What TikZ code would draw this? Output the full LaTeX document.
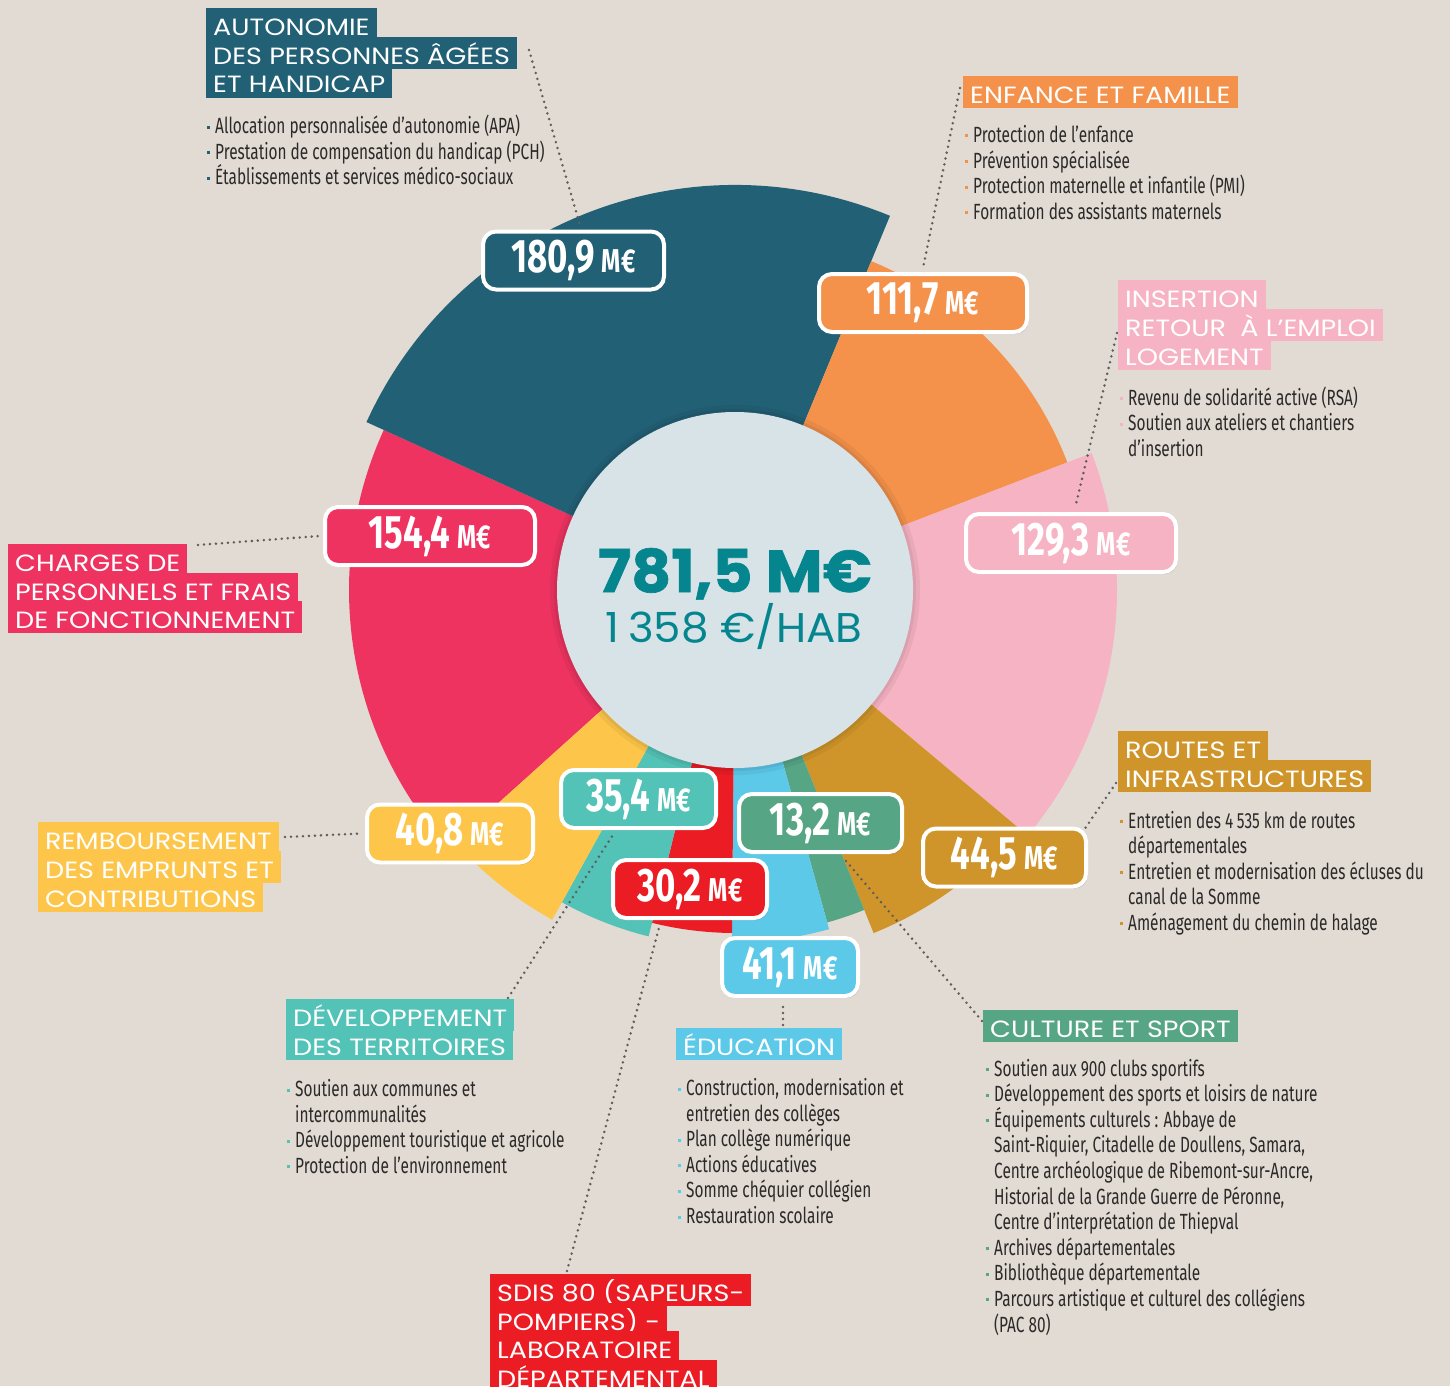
\documentclass[tikz,border=0pt]{standalone}
\usepackage{fontspec}
\setmainfont{Fira Sans}
\newfontfamily\hfont{Poppins}[FakeStretch=1.15]
\newfontfamily\bigfont{Poppins}[FakeStretch=1.05, BoldFeatures={FakeBold=1.2}]
\newfontfamily\bodyfont{Fira Sans}[FakeStretch=0.70]
\newfontfamily\valfont{Fira Sans}[FakeStretch=0.74]
\usetikzlibrary{shadows}
\definecolor{bg}{HTML}{E2DBD3}
\definecolor{cTeal}{HTML}{226075}
\definecolor{cOrange}{HTML}{F4924C}
\definecolor{cPink}{HTML}{F6B3C3}
\definecolor{cGold}{HTML}{D0952A}
\definecolor{cGreen}{HTML}{56A585}
\definecolor{cBlue}{HTML}{5CC9E9}
\definecolor{cRed}{HTML}{EC1C24}
\definecolor{cTealB}{HTML}{53C2B7}
\definecolor{cYellow}{HTML}{FDC64A}
\definecolor{cCrimson}{HTML}{EE3361}
\definecolor{cCenter}{HTML}{D8E3E8}
\definecolor{cNum}{HTML}{05868F}
\definecolor{cDot}{HTML}{5E5E5E}
\definecolor{cText}{HTML}{2B2A29}
\newcommand\bul[1]{\llap{\textcolor{#1}{\rule[5pt]{3pt}{3pt}}\hspace{5.5pt}}}
\newcommand\blist[5]{\foreach [count=\i] \k/\t in {#5}{\node[lst] (#1\i) at (#2,{#3+25.6*(\i-1)}) {\if\k b\bul{#4}\fi\t};}}
\newcommand\val[1]{\fontsize{47}{47}\selectfont #1\hspace{7pt}\fontsize{33}{33}\selectfont M€}
\begin{document}
\begin{tikzpicture}[x=1pt,y=-1pt,
  vbox/.style={draw=white, line width=4pt, rounded corners=13pt, text=white,
    inner sep=0pt, minimum height=58pt, font=\valfont\bfseries,
    drop shadow={shadow xshift=1.5pt, shadow yshift=-2pt, opacity=0.18, fill=black}},
  hdr/.style={anchor=base west, fill=#1, text=white, inner xsep=7pt, inner ysep=0pt,
    text height=27pt, text depth=5pt, font=\hfont\fontsize{23.5}{27}\selectfont},
  lst/.style={anchor=base west, inner sep=0pt, text=cText, font=\bodyfont\fontsize{22}{25.6}\selectfont},
  dots/.style={draw=cDot, line width=2.8pt, line cap=round, dash pattern=on 0pt off 6pt}]
\useasboundingbox (0,0) rectangle (1450,1386);
\fill[bg] (0,0) rectangle (1450,1386);
\coordinate (C) at (735,590);
% pie segments
\begin{scope}[shift={(735,590)},y=1pt]
\foreach \a/\b/\r/\c in {155.5/222/386/cCrimson, 67.5/155.5/405/cTeal, 21/67.5/356/cOrange,
   -40/21/382/cPink, -68/-40/370/cGold, -74.5/-68/345/cGreen, -90.5/-74.5/352/cBlue,
   -104/-90.5/343/cRed, -119/-104/357/cTealB, -138/-119/377/cYellow}
  \fill[\c] (0,0) -- (\a:\r) arc[start angle=\a, end angle=\b, radius=\r] -- cycle;
\end{scope}
\fill[black, opacity=0.05] (C) circle[radius=185pt];
\fill[black, opacity=0.06] (C) circle[radius=181pt];
\fill[cCenter] (C) circle[radius=178pt];
\node[anchor=base, text=cNum, inner sep=0pt, font=\bigfont\bfseries\fontsize{59}{59}\selectfont] (tot) at (735,592) {781,5 M€};
\node[anchor=base, text=cNum, inner sep=0pt, font=\bigfont\fontsize{41.5}{41.5}\selectfont] (hab) at (734,642) {1\hspace{9pt}358 €/HAB};
% dotted connectors
\coordinate (d1) at (529,50);
\coordinate (d2) at (960,88);
\coordinate (d3) at (1117,333);
\coordinate (d4) at (198,545);
\coordinate (d5) at (1116,783);
\coordinate (d6) at (285,837);
\coordinate (d7) at (508,998);
\coordinate (d8) at (567,1271);
\coordinate (d9) at (783,1025);
\coordinate (d10) at (982,1021);
% value boxes
\node[vbox, fill=cTeal, minimum width=181pt] (v1) at (573.5,260.5) {\val{180,9}};
\node[vbox, fill=cOrange, minimum width=208pt] (v2) at (923,303) {\val{111,7}};
\node[vbox, fill=cPink, minimum width=210pt] (v3) at (1071,543) {\val{129,3}};
\node[vbox, fill=cCrimson, minimum width=210pt] (v4) at (430,536) {\val{154,4}};
\node[vbox, fill=cYellow, minimum width=166pt] (v5) at (450,833.5) {\val{40,8}};
\node[vbox, fill=cTealB, minimum width=155pt] (v6) at (638.5,799) {\val{35,4}};
\node[vbox, fill=cRed, minimum width=154pt] (v7) at (690,889) {\val{30,2}};
\node[vbox, fill=cGreen, minimum width=163pt] (v8) at (820.5,823) {\val{13,2}};
\node[vbox, fill=cGold, minimum width=163pt] (v9) at (1004.5,857.5) {\val{44,5}};
\node[vbox, fill=cBlue, minimum width=136pt] (v10) at (790,967) {\val{41,1}};
\draw[dots] (d1) -- ([xshift=6pt,yshift=6pt]v1.north);
\draw[dots] (d2) -- ([yshift=4pt]v2.north);
\draw[dots] (d3) -- ([xshift=4pt,yshift=4pt]v3.north);
\draw[dots] (d4) -- ([xshift=-4pt]v4.west);
\draw[dots] (d5) -- ([xshift=-3pt,yshift=-2pt]v9.north east);
\draw[dots] (d6) -- ([xshift=-4pt]v5.west);
\draw[dots] (d7) -- ([xshift=-25pt,yshift=-4pt]v6.south);
\draw[dots] (d8) -- ([xshift=-30pt,yshift=-4pt]v7.south);
\draw[dots] (d9) -- ([xshift=-7pt,yshift=-4pt]v10.south);
\draw[dots] (d10) -- ([xshift=23pt,yshift=-4pt]v8.south);
% headers
\node[hdr=cTeal] (h1a) at (206,35.5) {AUTONOMIE};
\node[hdr=cTeal] (h1b) at (206,64.5) {DES PERSONNES ÂGÉES};
\node[hdr=cTeal] (h1c) at (206,93) {ET HANDICAP};
\node[hdr=cOrange] (h2) at (963,103) {ENFANCE ET FAMILLE};
\node[hdr=cPink] (h3a) at (1118,307) {INSERTION};
\node[hdr=cPink] (h3b) at (1118,336) {RETOUR \ À L’EMPLOI};
\node[hdr=cPink] (h3c) at (1118,365) {LOGEMENT};
\node[hdr=cCrimson] (h4a) at (8,571) {CHARGES DE};
\node[hdr=cCrimson] (h4b) at (8,600) {PERSONNELS ET FRAIS};
\node[hdr=cCrimson] (h4c) at (8,628) {DE FONCTIONNEMENT};
\node[hdr=cGold] (h5a) at (1118,758) {ROUTES ET};
\node[hdr=cGold] (h5b) at (1118,787) {INFRASTRUCTURES};
\node[hdr=cYellow] (h6a) at (38,849) {REMBOURSEMENT};
\node[hdr=cYellow] (h6b) at (38,878) {DES EMPRUNTS ET};
\node[hdr=cYellow] (h6c) at (38,907) {CONTRIBUTIONS};
\node[hdr=cTealB] (h7a) at (286,1026) {DÉVELOPPEMENT};
\node[hdr=cTealB] (h7b) at (286,1055) {DES TERRITOIRES};
\node[hdr=cBlue] (h8) at (676,1055) {ÉDUCATION};
\node[hdr=cGreen] (h9) at (983,1037) {CULTURE ET SPORT};
\node[hdr=cRed] (h10a) at (490,1301) {SDIS 80 (SAPEURS-};
\node[hdr=cRed] (h10b) at (490,1330) {POMPIERS) -};
\node[hdr=cRed] (h10c) at (490,1358) {LABORATOIRE};
\node[hdr=cRed] (h10d) at (490,1387) {DÉPARTEMENTAL};
% lists
\blist{la}{215}{133.5}{cTeal}{b/Allocation personnalisée d’autonomie (APA), b/Prestation de compensation du handicap (PCH), b/Établissements et services médico-sociaux}
\blist{lb}{973}{142.5}{cOrange}{b/Protection de l’enfance, b/Prévention spécialisée, b/Protection maternelle et infantile (PMI), b/Formation des assistants maternels}
\blist{lc}{1128}{405}{cPink}{b/Revenu de solidarité active (RSA), b/Soutien aux ateliers et chantiers, c/d’insertion}
\blist{ld}{1128}{828}{cGold}{b/Entretien des 4\,535 km de routes, c/départementales, b/Entretien et modernisation des écluses du, c/canal de la Somme, b/Aménagement du chemin de halage}
\blist{le}{295}{1096.5}{cTealB}{b/Soutien aux communes et, c/intercommunalités, b/Développement touristique et agricole, b/Protection de l’environnement}
\blist{lf}{686}{1095.5}{cBlue}{b/{Construction, modernisation et}, c/entretien des collèges, b/Plan collège numérique, b/Actions éducatives, b/Somme chéquier collégien, b/Restauration scolaire}
\blist{lg}{994}{1076}{cGreen}{b/Soutien aux 900 clubs sportifs, b/Développement des sports et loisirs de nature, b/Équipements culturels : Abbaye de, c/{Saint-Riquier, Citadelle de Doullens, Samara,}, c/{Centre archéologique de Ribemont-sur-Ancre,}, c/{Historial de la Grande Guerre de Péronne,}, c/Centre d’interprétation de Thiepval, b/Archives départementales, b/Bibliothèque départementale, b/Parcours artistique et culturel des collégiens, c/(PAC 80)}
\end{tikzpicture}
\end{document}
